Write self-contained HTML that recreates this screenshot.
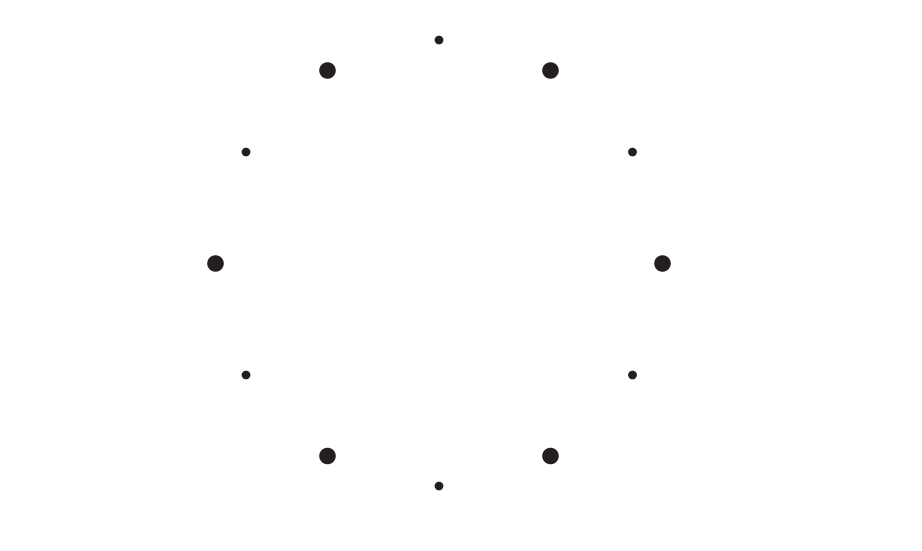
<!DOCTYPE html>
<html><head><meta charset="utf-8"><style>html,body{margin:0;padding:0;background:#fff;width:922px;height:551px;overflow:hidden}</style></head>
<body>
<svg width="922" height="551" viewBox="0 0 922 551" xmlns="http://www.w3.org/2000/svg">
<g fill="#231f20">
<circle cx="327.5" cy="70.5" r="8.3"/>
<circle cx="550.5" cy="70.5" r="8.3"/>
<circle cx="215.5" cy="263.5" r="8.3"/>
<circle cx="662.5" cy="263.5" r="8.3"/>
<circle cx="327.5" cy="456" r="8.3"/>
<circle cx="550.5" cy="456" r="8.3"/>
<circle cx="439" cy="40" r="4.4"/>
<circle cx="246" cy="152" r="4.4"/>
<circle cx="632.5" cy="152" r="4.4"/>
<circle cx="246" cy="375" r="4.4"/>
<circle cx="632.5" cy="375" r="4.4"/>
<circle cx="439" cy="486" r="4.4"/>
</g>
</svg>
</body></html>
